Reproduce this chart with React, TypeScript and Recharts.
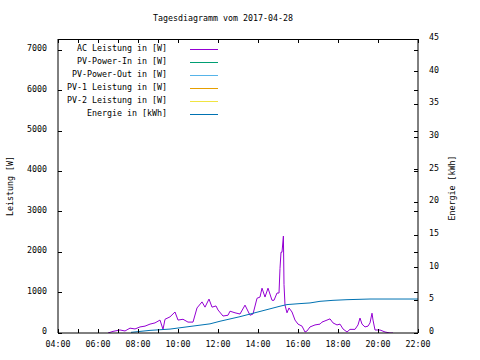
import { Line, LineChart, ReferenceLine, XAxis, YAxis } from "recharts";

const FONT = "'DejaVu Sans Mono', 'Liberation Mono', monospace";
const PLOT_W = 360;
const PLOT_H = 294;

const hourTicks = [4, 5, 6, 7, 8, 9, 10, 11, 12, 13, 14, 15, 16, 17, 18, 19, 20, 21, 22];
const powerTicks = [0, 1000, 2000, 3000, 4000, 5000, 6000, 7000];
const energyTicks = [0, 5, 10, 15, 20, 25, 30, 35, 40, 45];
const powerMax = 7280;

// AC Leistung (W), Zeit in Stunden
const acTimes = [
  6.5, 6.75, 7.1, 7.35, 7.6, 7.85, 8.1, 8.35, 8.6, 8.85, 9.1, 9.25, 9.35, 9.6, 9.85, 10.0, 10.25, 10.5,
  10.75, 10.95, 11.2, 11.35, 11.55, 11.7, 11.9, 12.0, 12.25, 12.5, 12.6, 12.85, 13.1, 13.35, 13.6, 13.75,
  13.95, 14.1, 14.2, 14.35, 14.5, 14.7, 14.8, 14.95, 15.05, 15.1, 15.15, 15.2, 15.27, 15.3, 15.35, 15.45,
  15.55, 15.7, 15.85, 16.0, 16.2, 16.35, 16.45, 16.6, 16.85, 17.1, 17.2, 17.6, 17.75, 17.95, 18.1, 18.25,
  18.45, 18.6, 18.85, 19.0, 19.1, 19.2, 19.35, 19.5, 19.6, 19.7, 19.75, 19.85, 20.1, 20.35, 20.6, 20.75,
];
const acWatts = [
  0, 40, 75, 50, 120, 100, 150, 170, 220, 250, 320, 90, 340, 400, 520, 320, 340, 270,
  270, 620, 770, 640, 840, 640, 670, 570, 420, 440, 540, 500, 470, 690, 440, 470,
  860, 890, 1110, 890, 1110, 810, 810, 990, 990, 1600, 2000, 2000, 2400, 1200, 690, 500,
  620, 520, 320, 220, 170, 25, 50, 150, 200, 220, 270, 350, 250, 200, 220, 100,
  25, 90, 90, 200, 370, 220, 150, 170, 250, 490, 320, 75, 75, 25, 0, 0,
];

// Energie (kWh)
const energyTimes = [7.65, 8.6, 9.6, 10.6, 11.6, 12.1, 13.1, 14.1, 15.1, 15.45, 16.1, 16.6, 17.1, 17.75, 18.45, 19.6, 22.0];
const energyKwh = [0.1, 0.4, 0.6, 1.0, 1.4, 1.8, 2.5, 3.3, 4.1, 4.35, 4.5, 4.6, 4.85, 5.0, 5.1, 5.2, 5.2];

const legendLabels = [
  "AC Leistung in [W]",
  "PV-Power-In in [W]",
  "PV-Power-Out in [W]",
  "PV-1 Leistung in [W]",
  "PV-2 Leistung in [W]",
  "Energie in [kWh]",
];
const legendColors = ["#9400d3", "#009e73", "#56b4e9", "#e69f00", "#f0e442", "#0072b2"];

const acData = acTimes.map((t, i) => ({ t, ac: acWatts[i] }));
const energyData = energyTimes.map((t, i) => ({ t, energy: energyKwh[i] }));

const pad = (h: number) => `${h < 10 ? "0" : ""}${h}:00`;

// gnuplot-style ticks: pointing inwards, mirrored on the opposite border
const BottomTick = (props: any) => {
  const { x, y, payload } = props;
  const h = payload.value as number;
  return (
    <g shapeRendering="crispEdges">
      <line x1={x} x2={x} y1={y} y2={y - 4} stroke="#000" />
      <line x1={x} x2={x} y1={y - PLOT_H} y2={y - PLOT_H + 4} stroke="#000" />
      {h % 2 === 0 && (
        <text x={x} y={y + 14} textAnchor="middle" fontFamily={FONT} fontSize={8.3} fill="#000">
          {pad(h)}
        </text>
      )}
    </g>
  );
};

const LeftTick = (props: any) => {
  const { x, y, payload } = props;
  return (
    <g shapeRendering="crispEdges">
      <line x1={x} x2={x + 4} y1={y} y2={y} stroke="#000" />
      <line x1={x + PLOT_W} x2={x + PLOT_W - 4} y1={y} y2={y} stroke="#000" />
      <text x={x - 11} y={y + 1} textAnchor="end" fontFamily={FONT} fontSize={8.3} fill="#000">
        {payload.value}
      </text>
    </g>
  );
};

const RightTick = (props: any) => {
  const { x, y, payload } = props;
  return (
    <g shapeRendering="crispEdges">
      <line x1={x} x2={x - 4} y1={y} y2={y} stroke="#000" />
      <text x={x + 11} y={y + 1} textAnchor="start" fontFamily={FONT} fontSize={8.3} fill="#000">
        {payload.value}
      </text>
    </g>
  );
};

export default function App() {
  return (
    <div style={{ position: "absolute", left: 0, top: 0, width: 480, height: 360, background: "#fff" }}>
      <LineChart width={480} height={360} margin={{ top: 39, right: 0, bottom: 0, left: 0 }}>
        <XAxis
          dataKey="t"
          type="number"
          domain={[4, 22]}
          ticks={hourTicks}
          tickSize={0}
          tickMargin={0}
          tick={BottomTick}
          height={27}
          stroke="#000"
          allowDataOverflow
        />
        <YAxis
          yAxisId="power"
          orientation="left"
          type="number"
          domain={[0, powerMax]}
          ticks={powerTicks}
          tickSize={0}
          tickMargin={0}
          tick={LeftTick}
          width={58}
          stroke="#000"
          allowDataOverflow
        />
        <YAxis
          yAxisId="energy"
          orientation="right"
          type="number"
          domain={[0, 45]}
          ticks={energyTicks}
          tickSize={0}
          tickMargin={0}
          tick={RightTick}
          width={62}
          stroke="#000"
          allowDataOverflow
        />
        <ReferenceLine yAxisId="power" y={powerMax} stroke="#000" shapeRendering="crispEdges" />
        <Line
          data={acData}
          dataKey="ac"
          yAxisId="power"
          type="linear"
          stroke="#9400d3"
          strokeWidth={1}
          dot={false}
          isAnimationActive={false}
        />
        <Line
          data={energyData}
          dataKey="energy"
          yAxisId="energy"
          type="linear"
          stroke="#0072b2"
          strokeWidth={1}
          dot={false}
          isAnimationActive={false}
        />
      </LineChart>
      <svg
        width={480}
        height={360}
        style={{ position: "absolute", left: 0, top: 0, pointerEvents: "none" }}
        fontFamily={FONT}
        fontSize={8.3}
      >
        <text x={223} y={21} textAnchor="middle" fill="#000">
          Tagesdiagramm vom 2017-04-28
        </text>
        <text x={13} y={186} textAnchor="middle" fill="#000" transform="rotate(-90 13 186)">
          Leistung [W]
        </text>
        <text x={455} y={188} textAnchor="middle" fill="#000" transform="rotate(-90 455 188)">
          Energie [kWh]
        </text>
        {legendLabels.map((label, i) => (
          <g key={label}>
            <text x={167} y={51 + i * 13} textAnchor="end" fill="#000">
              {label}
            </text>
            <line
              x1={190}
              x2={218}
              y1={49.5 + i * 13}
              y2={49.5 + i * 13}
              stroke={legendColors[i]}
              strokeWidth={1}
            />
          </g>
        ))}
      </svg>
    </div>
  );
}
